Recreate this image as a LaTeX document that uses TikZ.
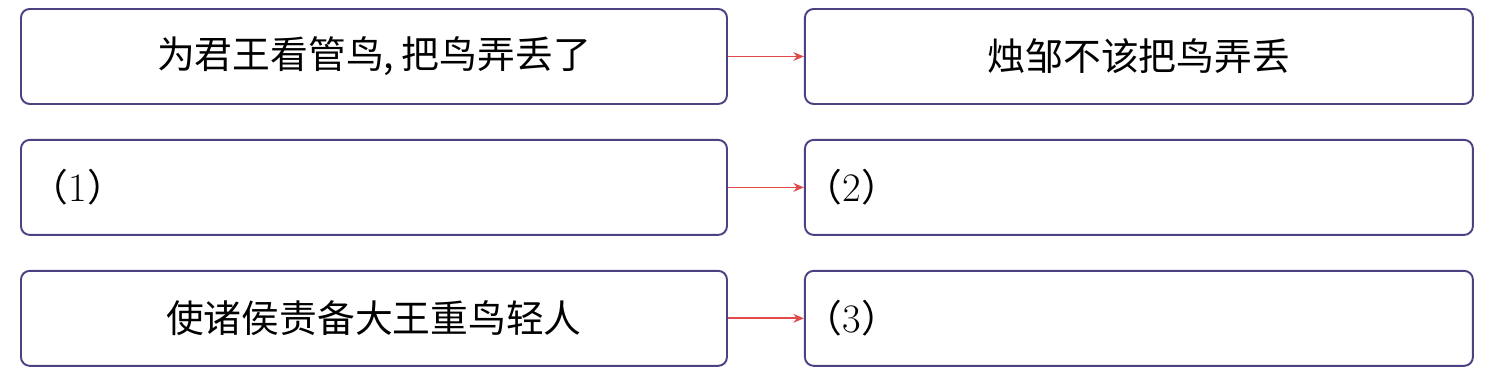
\documentclass[tikz,border=0pt]{standalone}
\usepackage{fontspec}
\newfontfamily\cjk{Noto Sans CJK SC}
\usetikzlibrary{arrows.meta,positioning}
\definecolor{boxblue}{RGB}{74,66,130}
\definecolor{arrred}{RGB}{224,74,74}
\tikzset{
  ansbox/.style={draw=boxblue, line width=1.1pt, rounded corners=5pt,
                 minimum height=1.9cm, text width=#1, align=center,
                 font=\cjk\fontsize{21.5}{24}\selectfont, inner xsep=0.2cm,
                 inner ysep=0pt},
  ansbox/.default=13.72cm,
  rbox/.style   ={ansbox=13.36cm, inner xsep=0pt},
  blank/.style  ={align=left},
  arr/.style    ={-{Stealth[length=6pt,width=5pt]}, arrred, line width=1pt},
}
\newcommand{\num}[1]{（{\rmfamily\fontsize{23}{24}\selectfont #1}）}
\begin{document}
\begin{tikzpicture}[node distance=0.68cm and 1.52cm]
  \useasboundingbox (0,0) rectangle (29.8,-7.38);
  \node[ansbox, anchor=north west] (l1) at (0.4,-0.16) {为君王看管鸟,\hspace{0.2em}把鸟弄丢了};
  \node[rbox, right=of l1] (r1) {烛邹不该把鸟弄丢};
  \node[ansbox, blank, below=of l1] (l2) {\num{1}};
  \node[rbox, blank, right=of l2] (r2) {\num{2}};
  \node[ansbox, below=of l2] (l3) {使诸侯责备大王重鸟轻人};
  \node[rbox, blank, right=of l3] (r3) {\num{3}};
  \draw[arr](l1)--(r1);
  \draw[arr](l2)--(r2);
  \draw[arr](l3)--(r3);
\end{tikzpicture}
\end{document}
